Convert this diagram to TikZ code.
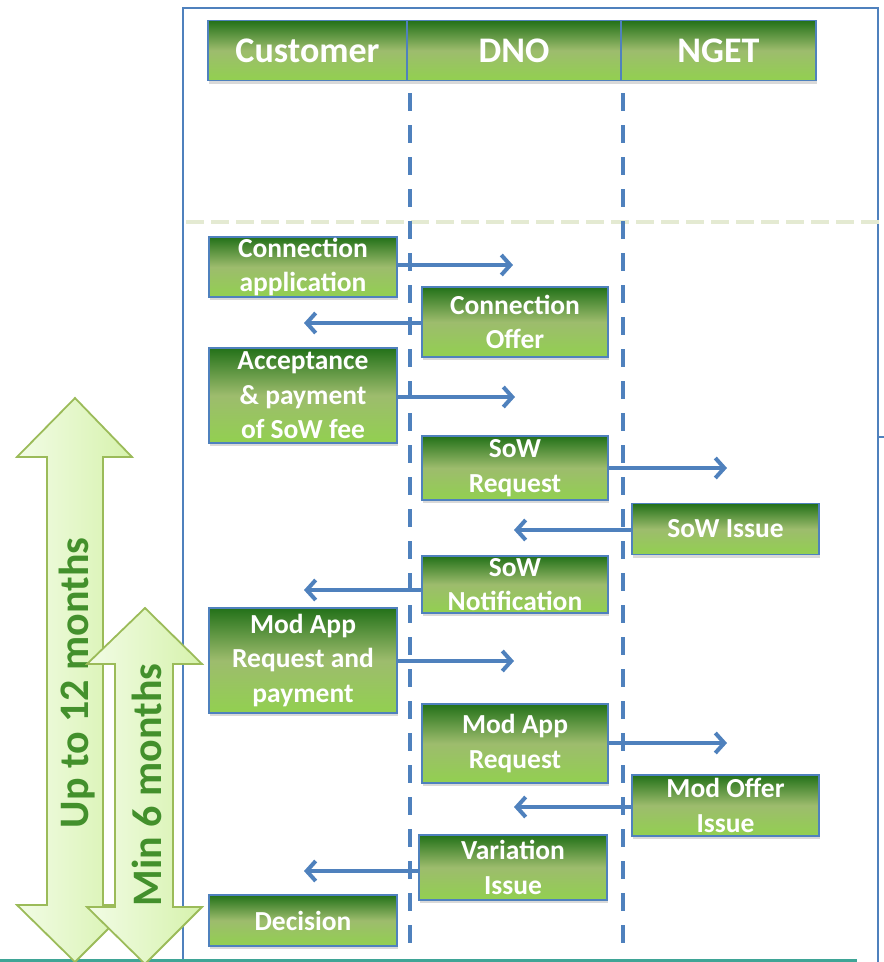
\documentclass[tikz,border=0pt]{standalone}
\usepackage{fontspec}
\setmainfont{Carlito}
\usetikzlibrary{arrows.meta,shadows}
\definecolor{bl}{HTML}{4F81BD}
\definecolor{gtop}{HTML}{237119}
\definecolor{gmid}{HTML}{9DBC6D}
\definecolor{gbot}{HTML}{92D050}
\definecolor{arrfillL}{HTML}{F2FCE6}
\definecolor{arrfillR}{HTML}{D6F2AC}
\definecolor{arredge}{HTML}{9BBB59}
\definecolor{arrtext}{HTML}{43902C}
\definecolor{sepcol}{HTML}{E4EAD2}
\definecolor{tealcol}{HTML}{3FA596}
\begin{document}
\begin{tikzpicture}[x=1pt,y=-1pt,
  gbox/.style={draw=bl,line width=1.8pt,top color=gtop,bottom color=gbot,middle color=gmid,
    text=white,align=center,inner sep=0pt,
    drop shadow={shadow xshift=1pt,shadow yshift=-3pt,opacity=0.3}},
  msgbox/.style={gbox,font=\bfseries\fontsize{27.5}{34.5}\selectfont},
  hdr/.style={gbox,font=\bfseries\fontsize{36}{40}\selectfont,minimum height=60pt},
  msg/.style={draw=bl,line width=4pt,-{Straight Barb[length=9pt,width=20pt]}},
  life/.style={draw=bl,line width=4.5pt,dash pattern=on 18pt off 14pt},
  sepline/.style={draw=sepcol,line width=4pt,dash pattern=on 18pt off 7pt},
  frame/.style={draw=bl,line width=1.6pt},
  bigarr/.style={draw=arredge,line width=1.8pt,left color=arrfillL,right color=arrfillR,line join=miter},
  bigtxt/.style={rotate=90,text=arrtext,font=\bfseries\fontsize{42}{42}\selectfont,inner sep=0pt}
]
\useasboundingbox (0,0) rectangle (884,962);

% frame and separator
\coordinate (f1) at (183,962);
\coordinate (f2) at (183,8);
\coordinate (f3) at (878,8);
\coordinate (f4) at (878,962);
\draw[frame] (f1) -- (f2) -- (f3) -- (f4);
\coordinate (f5) at (878,437);
\coordinate (f6) at (884,437);
\draw[frame] (f5) -- (f6);
\coordinate (s1) at (186,222);
\coordinate (s2) at (884,222);
\draw[sepline] (s1) -- (s2);

% bottom line
\coordinate (b1) at (0,960.5);
\coordinate (b2) at (857,960.5);
\draw[tealcol,line width=2.5pt] (b1) -- (b2);

% lifelines
\coordinate (l1t) at (410,93);
\coordinate (l1b) at (410,946);
\coordinate (l2t) at (623,93);
\coordinate (l2b) at (623,946);
\draw[life] (l1t) -- (l1b);
\draw[life] (l2t) -- (l2b);

% header
\node[hdr,minimum width=199pt] (hc) at (307.5,50.5) {Customer};
\node[hdr,minimum width=214pt] (hd) at (514,50.5) {DNO};
\node[hdr,minimum width=195pt] (hn) at (718.5,50.5) {NGET};

% message boxes
\node[msgbox,minimum width=188pt,minimum height=60pt] (ca) at (303,267) {Connection\\application};
\node[msgbox,minimum width=186pt,minimum height=70pt] (co) at (515,322) {Connection\\Offer};
\node[msgbox,minimum width=188pt,minimum height=95pt] (acc) at (303,395.5) {Acceptance\\\& payment\\of SoW fee};
\node[msgbox,minimum width=186pt,minimum height=64pt] (sreq) at (515,468) {SoW\\Request};
\node[msgbox,minimum width=187pt,minimum height=51pt] (siss) at (725.5,529) {SoW Issue};
\node[msgbox,minimum width=186pt,minimum height=57pt] (snot) at (515,584.5) {SoW\\Notification};
\node[msgbox,minimum width=188pt,minimum height=105pt] (mar) at (303,660.5) {Mod App\\Request and\\payment};
\node[msgbox,minimum width=186pt,minimum height=79pt] (mreq) at (515,743.5) {Mod App\\Request};
\node[msgbox,minimum width=187pt,minimum height=61pt] (moi) at (725.5,805.5) {Mod Offer\\Issue};
\node[msgbox,minimum width=188pt,minimum height=65pt] (vi) at (513,867.5) {Variation\\Issue};
\node[msgbox,minimum width=188pt,minimum height=51pt] (dec) at (303,920.5) {Decision};

% message arrows
\coordinate (e1) at (513,265);
\coordinate (e2) at (304,323);
\coordinate (e3) at (515,397);
\coordinate (e4) at (727,468);
\coordinate (e5) at (514,530);
\coordinate (e6) at (304,590);
\coordinate (e7) at (514,661);
\coordinate (e8) at (727,743);
\coordinate (e9) at (514,807);
\coordinate (e10) at (304,871);
\draw[msg] (ca.east |- e1) -- (e1);
\draw[msg] (co.west |- e2) -- (e2);
\draw[msg] (acc.east |- e3) -- (e3);
\draw[msg] (sreq.east |- e4) -- (e4);
\draw[msg] (siss.west |- e5) -- (e5);
\draw[msg] (snot.west |- e6) -- (e6);
\draw[msg] (mar.east |- e7) -- (e7);
\draw[msg] (mreq.east |- e8) -- (e8);
\draw[msg] (moi.west |- e9) -- (e9);
\draw[msg] (vi.west |- e10) -- (e10);

% duration arrows
\draw[bigarr] (75,398) -- (132,457) -- (103,457) -- (103,905) -- (132,905) -- (75,962)
  -- (17,905) -- (47,905) -- (47,457) -- (17,457) -- cycle;
\node[bigtxt] (t12) at (77,683) {Up to 12 months};
\draw[bigarr] (145,608) -- (202,664) -- (173,664) -- (173,907) -- (202,907) -- (145,964)
  -- (87,907) -- (115,907) -- (115,664) -- (87,664) -- cycle;
\node[bigtxt] (t6) at (147,785) {Min 6 months};
\end{tikzpicture}
\end{document}
